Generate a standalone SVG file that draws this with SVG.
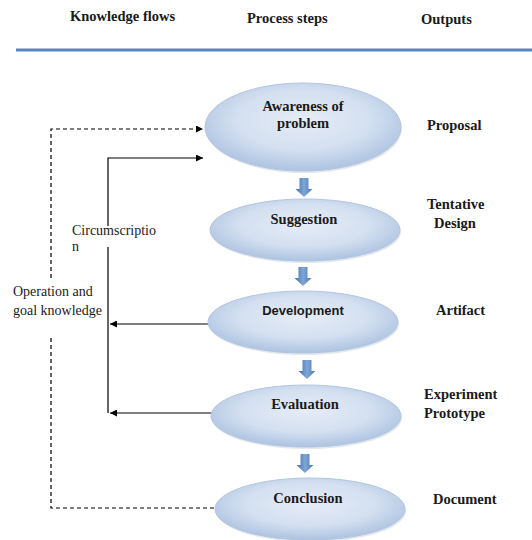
<svg xmlns="http://www.w3.org/2000/svg" width="532" height="540" viewBox="0 0 532 540">
<defs>
<radialGradient id="eg" cx="0.5" cy="0.42" r="0.62">
<stop offset="0" stop-color="#e5ecf6"/>
<stop offset="0.55" stop-color="#d4e0f0"/>
<stop offset="1" stop-color="#a6bedf"/>
</radialGradient>
<linearGradient id="ag" x1="0" y1="0" x2="1" y2="0">
<stop offset="0" stop-color="#3f6fae"/>
<stop offset="0.5" stop-color="#7fa6d6"/>
<stop offset="1" stop-color="#4a78b5"/>
</linearGradient>
<marker id="ah" viewBox="0 0 10 10" refX="10" refY="5" markerWidth="9" markerHeight="7" markerUnits="userSpaceOnUse" orient="auto">
<path d="M0,0 L10,5 L0,10 Z" fill="#000"/>
</marker>
<path id="blk" d="M-4.5,0 H4.5 V11 H8.5 L0,19 L-8.5,11 H-4.5 Z"/>
</defs>
<style>
.hd{font-family:"Liberation Serif",serif;font-weight:bold;font-size:14.5px;fill:#1a1a1a}
.nd{fill:url(#eg);stroke:#b3c6e0;stroke-width:1}
.sh{fill:#c8d2de;opacity:0.5}
.nt{font-family:"Liberation Serif",serif;font-weight:bold;font-size:14.5px;fill:#1a1a1a;text-anchor:middle}
.ns{font-family:"Liberation Sans",sans-serif;font-weight:bold;font-size:13px;fill:#1a1a1a;text-anchor:middle}
.lb{font-family:"Liberation Serif",serif;font-size:14px;fill:#1a1a1a}
.sl{fill:none;stroke:#000;stroke-width:1.2}
.ds{fill:none;stroke:#000;stroke-width:1.2;stroke-dasharray:4,3}
.ba{fill:url(#ag)}
</style>
<rect width="532" height="540" fill="#fff"/>
<g id="header">
<text class="hd" x="70" y="21">Knowledge flows</text>
<text class="hd" x="247" y="23">Process steps</text>
<text class="hd" x="421" y="24">Outputs</text>
<line x1="16" y1="50" x2="532" y2="50" stroke="#5a86bf" stroke-width="3"/>
</g>
<g id="connectors">
<polyline class="ds" points="214,508 51,508 51,336"/>
<polyline class="ds" points="51,278 51,129 203,129" marker-end="url(#ah)"/>
<polyline class="sl" points="108,413 108,158 203,158" marker-end="url(#ah)"/>
<line class="sl" x1="208" y1="324" x2="110" y2="324" marker-end="url(#ah)"/>
<line class="sl" x1="212" y1="413" x2="110" y2="413" marker-end="url(#ah)"/>
<use href="#blk" class="ba" x="304" y="178"/>
<use href="#blk" class="ba" x="303" y="267"/>
<use href="#blk" class="ba" x="307" y="360"/>
<use href="#blk" class="ba" x="305" y="454"/>
</g>
<g id="awareness">
<ellipse class="sh" cx="304" cy="129" rx="98" ry="44"/>
<ellipse class="nd" cx="303" cy="127" rx="98" ry="44"/>
<text class="nt" x="303" y="111">Awareness of</text>
<text class="nt" x="303" y="128">problem</text>
</g>
<g id="suggestion">
<ellipse class="sh" cx="306" cy="232" rx="95" ry="31"/>
<ellipse class="nd" cx="305" cy="230" rx="95" ry="31"/>
<text class="nt" x="304" y="224">Suggestion</text>
</g>
<g id="development">
<ellipse class="sh" cx="304" cy="324" rx="95" ry="31"/>
<ellipse class="nd" cx="303" cy="322" rx="95" ry="31"/>
<text class="ns" x="303" y="315">Development</text>
</g>
<g id="evaluation">
<ellipse class="sh" cx="307" cy="418" rx="95" ry="31"/>
<ellipse class="nd" cx="306" cy="416" rx="95" ry="31"/>
<text class="nt" x="305" y="409">Evaluation</text>
</g>
<g id="conclusion">
<ellipse class="sh" cx="311" cy="511" rx="95" ry="31"/>
<ellipse class="nd" cx="310" cy="509" rx="95" ry="31"/>
<text class="nt" x="308" y="503">Conclusion</text>
</g>
<g id="labels">
<rect x="70" y="226" width="92" height="21" fill="#fff"/>
<text class="lb" x="72" y="235">Circumscriptio</text>
<text class="lb" x="72" y="251">n</text>
<text class="lb" x="13" y="296">Operation and</text>
<text class="lb" x="13" y="315">goal knowledge</text>
</g>
<g id="outputs">
<text class="hd" x="427" y="130">Proposal</text>
<text class="hd" x="427" y="209">Tentative</text>
<text class="hd" x="434" y="228">Design</text>
<text class="hd" x="436" y="315">Artifact</text>
<text class="hd" x="424" y="399">Experiment</text>
<text class="hd" x="424" y="418">Prototype</text>
<text class="hd" x="433" y="504">Document</text>
</g>
</svg>
